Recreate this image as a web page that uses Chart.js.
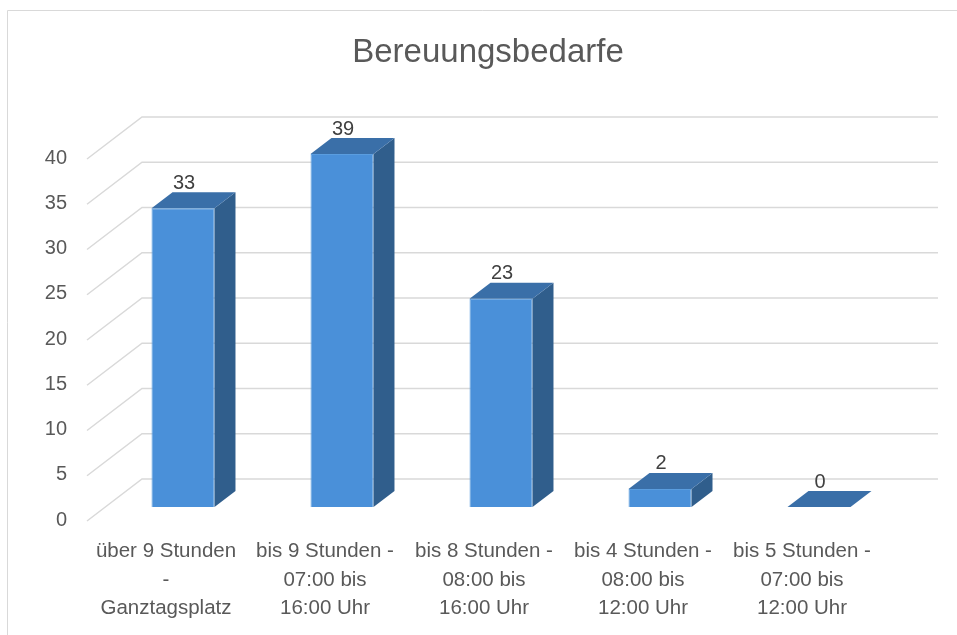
<!DOCTYPE html>
<html>
<head>
<meta charset="utf-8">
<script src="https://cdn.jsdelivr.net/npm/chart.js@4"></script>
<style>
html, body { margin: 0; padding: 0; background: #fff; }
</style>
</head>
<body>
<canvas id="myBar" width="957" height="635"></canvas>
<script>
// data
var categories = [
  ["über 9 Stunden", "-", "Ganztagsplatz"],
  ["bis 9 Stunden -", "07:00 bis", "16:00 Uhr"],
  ["bis 8 Stunden -", "08:00 bis", "16:00 Uhr"],
  ["bis 4 Stunden -", "08:00 bis", "12:00 Uhr"],
  ["bis 5 Stunden -", "07:00 bis", "12:00 Uhr"]
];
var values = [33, 39, 23, 2, 0];
var yMin = 0;
var yMax = 40;
var yStep = 5;
var chartTitle = "Bereuungsbedarfe";

// 3d look (offsets in px)
var depth = { x: 21, y: -16 };
var wall = { x: 38.5, y: -28 };
var floorEdge = { x: -16.5, y: 14 };

var frame = {
  id: "frame",
  beforeDraw: function (chart) {
    var ctx = chart.ctx;
    ctx.save();
    ctx.strokeStyle = "#d9d9d9";
    ctx.lineWidth = 1;
    ctx.beginPath();
    ctx.moveTo(7.5, chart.height);
    ctx.lineTo(7.5, 10.5);
    ctx.lineTo(chart.width, 10.5);
    ctx.stroke();
    ctx.restore();
  }
};

var wallGrid = {
  id: "wallGrid",
  beforeDatasetsDraw: function (chart) {
    var ctx = chart.ctx, ys = chart.scales.y, area = chart.chartArea;
    ctx.save();
    ctx.strokeStyle = "#d9d9d9";
    ctx.lineWidth = 1.5;
    ys.ticks.forEach(function (t) {
      var p = ys.getPixelForValue(t.value);
      ctx.beginPath();
      ctx.moveTo(area.left + floorEdge.x, p + floorEdge.y);
      ctx.lineTo(area.left + wall.x, p + wall.y);
      ctx.lineTo(area.right + wall.x + 1, p + wall.y);
      ctx.stroke();
    });
    ctx.restore();
  }
};

var bar3d = {
  id: "bar3d",
  afterDatasetsDraw: function (chart) {
    var ctx = chart.ctx;
    var meta = chart.getDatasetMeta(0);
    ctx.save();
    meta.data.forEach(function (bar, i) {
      var p = bar.getProps(["x", "y", "base", "width"], true);
      var l = p.x - p.width / 2, r = p.x + p.width / 2;
      // side
      ctx.fillStyle = "#305e8c";
      ctx.beginPath();
      ctx.moveTo(r, p.y);
      ctx.lineTo(r + depth.x, p.y + depth.y);
      ctx.lineTo(r + depth.x, p.base + depth.y);
      ctx.lineTo(r, p.base);
      ctx.closePath();
      ctx.fill();
      // top
      ctx.fillStyle = "#3a6fa8";
      ctx.beginPath();
      ctx.moveTo(l, p.y);
      ctx.lineTo(l + depth.x, p.y + depth.y);
      ctx.lineTo(r + depth.x, p.y + depth.y);
      ctx.lineTo(r, p.y);
      ctx.closePath();
      ctx.fill();
      // value label
      ctx.fillStyle = "#404040";
      ctx.font = "20px 'Liberation Sans', Arial, sans-serif";
      ctx.textAlign = "center";
      ctx.textBaseline = "middle";
      ctx.fillText(String(values[i]), p.x + 1, p.y - 25);
    });
    ctx.restore();
  }
};

var myBarChart = new Chart(document.getElementById("myBar"), {
  type: "bar",
  data: {
    labels: categories,
    datasets: [
      {
        label: chartTitle,
        data: values,
        backgroundColor: "#4a90d9",
        borderColor: "#5a9ddf",
        borderWidth: 1,
        categoryPercentage: 1,
        barPercentage: 0.396,
        clip: false
      }
    ]
  },
  options: {
    responsive: false,
    animation: false,
    layout: { padding: { left: 19, right: 0, top: 0, bottom: 0 } },
    plugins: {
      legend: { display: false },
      tooltip: { enabled: false },
      title: {
        display: true,
        text: chartTitle,
        color: "#595959",
        font: { family: "'Liberation Sans', Arial, sans-serif", size: 33, weight: "normal", lineHeight: 1.2 },
        padding: { top: 33, bottom: 72.4 }
      }
    },
    scales: {
      x: {
        grid: { display: false, drawTicks: false },
        border: { display: false },
        ticks: {
          color: "#595959",
          font: { family: "'Liberation Sans', Arial, sans-serif", size: 20.5, lineHeight: 1.4 },
          padding: 30,
          labelOffset: -17,
          maxRotation: 0,
          autoSkip: false
        },
        afterFit: function (s) { s.height = 128; }
      },
      y: {
        min: yMin,
        max: yMax,
        grid: { display: false, drawTicks: false },
        border: { display: false },
        ticks: {
          stepSize: yStep,
          color: "#595959",
          font: { family: "'Liberation Sans', Arial, sans-serif", size: 20 },
          padding: 36.5,
          labelOffset: 13
        },
        afterFit: function (s) { s.width = 84.5; }
      },
      yRight: {
        position: "right",
        display: true,
        grid: { display: false, drawTicks: false },
        border: { display: false },
        ticks: { display: false },
        afterFit: function (s) { s.width = 58.5; }
      }
    }
  },
  plugins: [frame, wallGrid, bar3d]
});
</script>
</body>
</html>
